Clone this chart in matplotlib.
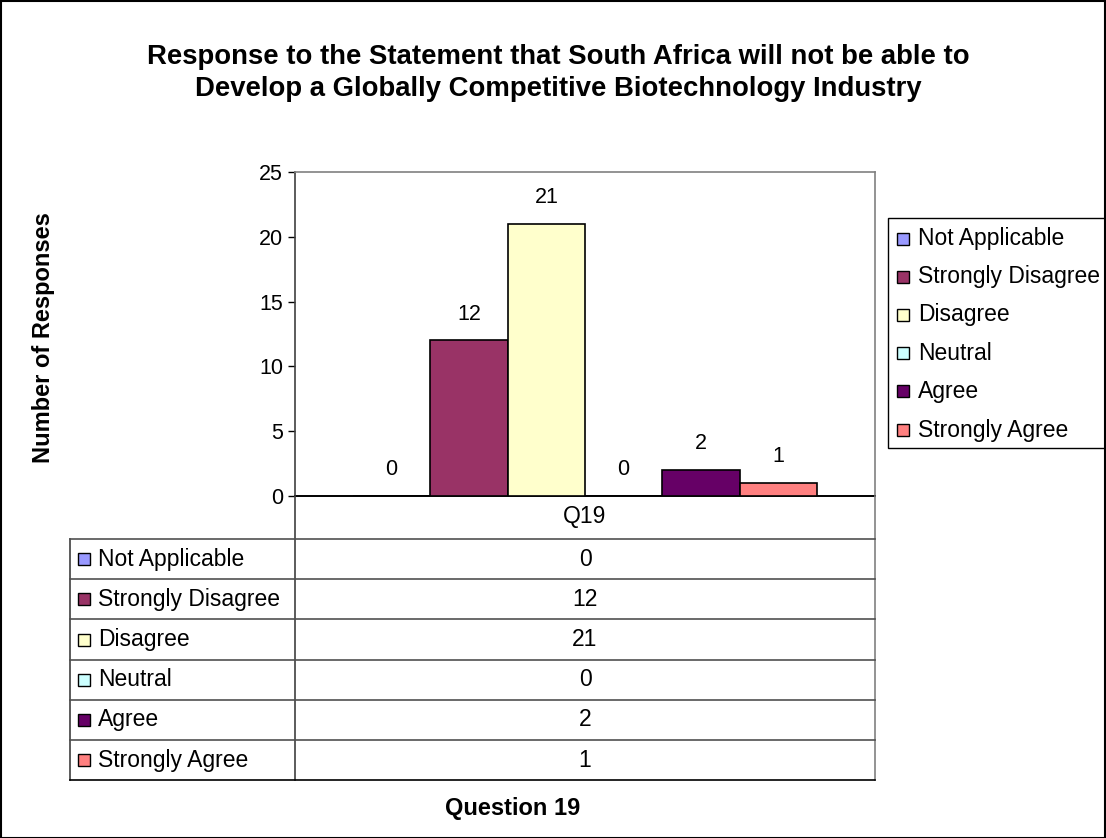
import matplotlib
matplotlib.use("Agg")
import matplotlib.pyplot as plt
from matplotlib.patches import Rectangle
from matplotlib.lines import Line2D

plt.rcParams['font.family'] = ['Liberation Sans', 'DejaVu Sans']

title = "Response to the Statement that South Africa will not be able to\nDevelop a Globally Competitive Biotechnology Industry"
category = "Q19"
series_names = ["Not Applicable", "Strongly Disagree", "Disagree", "Neutral", "Agree", "Strongly Agree"]
series_values = [0, 12, 21, 0, 2, 1]
series_colors = ["#9999FF", "#993366", "#FFFFCC", "#CCFFFF", "#660066", "#FF8080"]
y_ticks = [0, 5, 10, 15, 20, 25]
y_label = "Number of Responses"
x_label = "Question 19"

W, H = 1106, 838
fig = plt.figure(figsize=(W / 100, H / 100), dpi=100)


def fx(px):
    return px / W


def fy(py):
    return 1 - py / H


# plot area in pixel coordinates
L, R, T, B = 295, 875, 172, 496
ax = fig.add_axes([fx(L), fy(B), fx(R) - fx(L), fy(T) - fy(B)])

n = len(series_values)
xs = list(range(n))
ax.bar(xs, series_values, width=1.0, color=series_colors, edgecolor="black", linewidth=1.2, zorder=3)
for x, v in zip(xs, series_values):
    ax.annotate(str(v), (x, v), xytext=(0, 19), textcoords="offset points",
                ha="center", va="center", fontsize=15.5)

ax.set_xlim(-1.25, n - 1 + 1.25)
ax.set_ylim(0, 25)
ax.set_yticks(y_ticks)
ax.set_yticklabels([str(t) for t in y_ticks], fontsize=15.5)
ax.set_xticks([])
ax.tick_params(axis="y", direction="out", length=5, width=1, pad=3.6, colors="black")
for side in ["top", "right"]:
    ax.spines[side].set_color("#808080")
    ax.spines[side].set_linewidth(1.2)
ax.spines["left"].set_color("#404040")
ax.spines["bottom"].set_color("black")
ax.spines["left"].set_linewidth(1.2)
ax.spines["bottom"].set_linewidth(1.4)
ax.set_facecolor("white")

# data table under the plot
TL = 70
row_h = 40.2
header_bottom = 539
rows_top = header_bottom
table_bottom = rows_top + row_h * n


def hline(y, x0, x1, color="#404040", lw=1.2):
    fig.add_artist(Line2D([fx(x0), fx(x1)], [fy(y), fy(y)], color=color, lw=lw))


def vline(x, y0, y1, color="#404040", lw=1.2):
    fig.add_artist(Line2D([fx(x), fx(x)], [fy(y0), fy(y1)], color=color, lw=lw))


vline(L, B, table_bottom)
vline(R, B, table_bottom, color="#808080")
vline(TL, rows_top, table_bottom)
for i in range(n + 1):
    y = rows_top + row_h * i
    hline(y, TL, R, color="black" if i == n else "#505050")

fig.text(fx((L + R) / 2), fy(517), category, ha="center", va="center", fontsize=16.5)

for i, (name, val, col) in enumerate(zip(series_names, series_values, series_colors)):
    yc = rows_top + row_h * (i + 0.5)
    fig.add_artist(Rectangle((fx(78), fy(yc + 6)), fx(12), 12 / H, facecolor=col,
                             edgecolor="black", lw=1.0))
    fig.text(fx(98), fy(yc), name, ha="left", va="center", fontsize=16.5)
    fig.text(fx((L + R) / 2), fy(yc), str(val), ha="center", va="center", fontsize=16.5)

# legend box
LG_L, LG_T, LG_B = 888, 218, 448
fig.add_artist(Rectangle((fx(LG_L), fy(LG_B)), fx(W + 5) - fx(LG_L), (LG_B - LG_T) / H,
                         facecolor="white", edgecolor="black", lw=1.0, clip_on=False))
legend_y = [239, 277, 315, 353, 391, 430]
for yc, name, col in zip(legend_y, series_names, series_colors):
    fig.add_artist(Rectangle((fx(897), fy(yc + 6)), fx(12), 12 / H, facecolor=col,
                             edgecolor="black", lw=1.0))
    fig.text(fx(918), fy(yc), name, ha="left", va="center", fontsize=16.5)

# titles
fig.text(fx(558), fy(73), title, ha="center", va="center", fontsize=19.8,
         fontweight="bold", linespacing=1.3)
fig.text(fx(44), fy(338), y_label, ha="center", va="center", rotation=90,
         fontsize=17, fontweight="bold")
fig.text(fx(513), fy(808), x_label, ha="center", va="center", fontsize=17, fontweight="bold")

# outer chart frame
fig.add_artist(Rectangle((0.5 / W, 0.5 / H), 1 - 2 / W, 1 - 2 / H, facecolor="none",
                         edgecolor="black", lw=1.5))

fig.savefig("out.png", dpi=100)
